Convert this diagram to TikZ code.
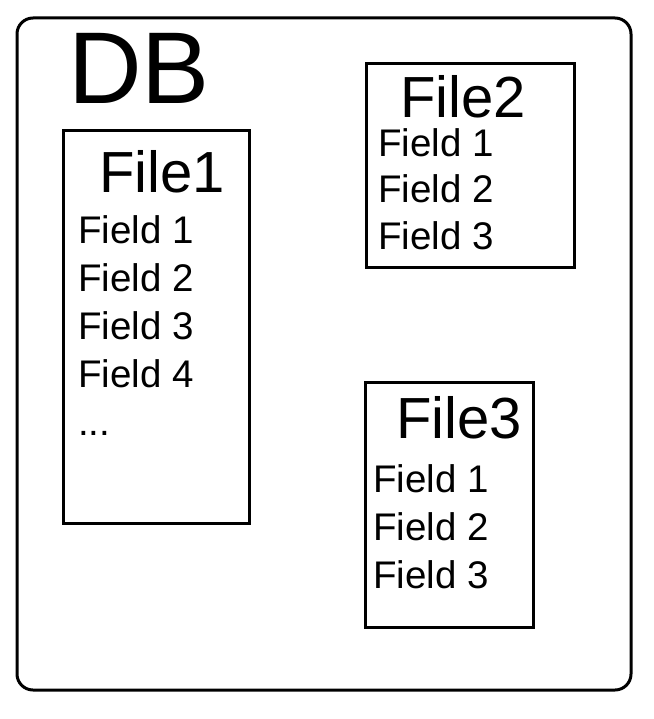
\documentclass[tikz,border=0pt]{standalone}
\usepackage{fontspec}
\setmainfont{Liberation Sans}
\usepackage{tikz}
\usetikzlibrary{positioning}

\begin{document}
\begin{tikzpicture}[x=1pt,y=-1pt,
	dbbox/.style={draw,line width=3pt,rounded corners=16pt,inner sep=0pt},
	filebox/.style={draw,line width=3pt,inner sep=0pt},
	dbname/.style={anchor=base west,inner sep=0pt,font=\fontsize{102}{110}\selectfont},
	filename/.style={anchor=base west,inner sep=0pt,font=\fontsize{58}{64}\selectfont},
	field/.style={anchor=base west,inner sep=0pt,font=\fontsize{38.5}{42}\selectfont}]
	\useasboundingbox (0,0) rectangle (653,719);

	\node[dbbox,minimum width=614,minimum height=672] (db) at (324,354) {};
	\node[dbname] (dbtitle) at (68,104) {DB};

	\begin{scope}
		\node[filebox,minimum width=186,minimum height=392] (file1) at (156,327) {};
		\node[filename] (file1title) at (99,193) {File1};
		\node[field] (f11) at (78,243) {Field 1};
		\node[field] (f12) at (78,291) {Field 2};
		\node[field] (f13) at (78,339) {Field 3};
		\node[field] (f14) at (78,387) {Field 4};
		\node[field] (f1dots) at (78,435) {...};
	\end{scope}

	\begin{scope}
		\node[filebox,minimum width=208,minimum height=203] (file2) at (470,165.5) {};
		\node[filename] (file2title) at (400,118) {File2};
		\node[field] (f21) at (378,157) {Field 1};
		\node[field] (f22) at (378,203) {Field 2};
		\node[field] (f23) at (378,249) {Field 3};
	\end{scope}

	\begin{scope}
		\node[filebox,minimum width=168,minimum height=245] (file3) at (449,504.5) {};
		\node[filename] (file3title) at (396,438) {File3};
		\node[field] (f31) at (373,492) {Field 1};
		\node[field] (f32) at (373,540) {Field 2};
		\node[field] (f33) at (373,588) {Field 3};
	\end{scope}
\end{tikzpicture}
\end{document}
